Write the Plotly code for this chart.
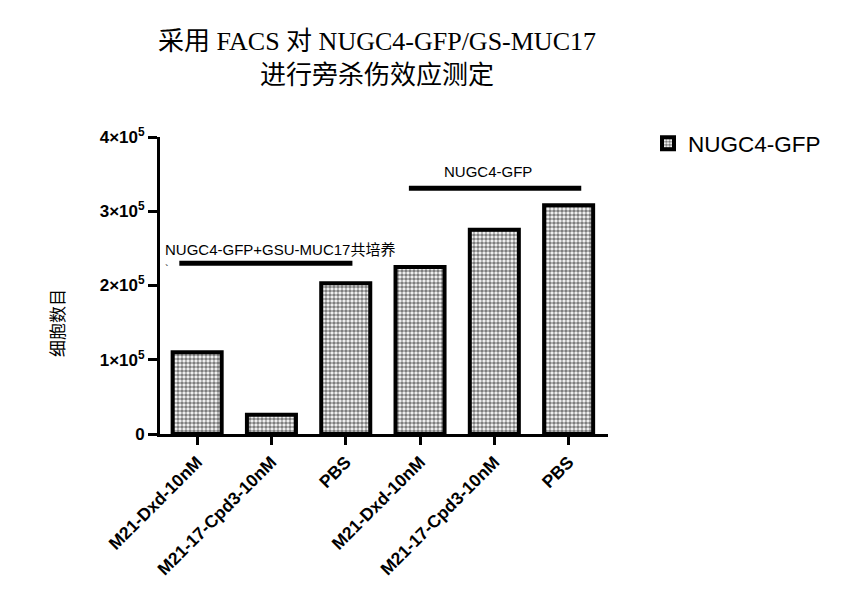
import plotly.graph_objects as go

categories = ["M21-Dxd-10nM", "M21-17-Cpd3-10nM", "PBS", "M21-Dxd-10nM", "M21-17-Cpd3-10nM", "PBS"]
values = [1.10e5, 0.26e5, 2.03e5, 2.25e5, 2.75e5, 3.08e5]
series_name = "NUGC4-GFP"
ytick_vals = [0, 1e5, 2e5, 3e5, 4e5]
ytick_text = ["0", "1×10<sup>5</sup>", "2×10<sup>5</sup>", "3×10<sup>5</sup>", "4×10<sup>5</sup>"]
group_labels = ["NUGC4-GFP+GSU-MUC17共培养", "NUGC4-GFP"]
y_title = "细胞数目"

x_pos = list(range(len(categories)))

fig = go.Figure()
fig.add_trace(go.Bar(
    x=x_pos, y=values, name=series_name, width=0.66,
    marker=dict(color="white", line=dict(color="black", width=4),
                pattern=dict(shape=".", fgcolor="black", bgcolor="white", size=4, solidity=0.65)),
    showlegend=True,
))

sans = "Liberation Sans, Arial, Noto Sans CJK SC"
fig.update_layout(
    width=855, height=598,
    margin=dict(l=160, r=247, t=137, b=164),
    paper_bgcolor="white", plot_bgcolor="white",
    font=dict(family=sans, color="black"),
    title=dict(text="采用 FACS 对 NUGC4-GFP/GS-MUC17<br>进行旁杀伤效应测定",
               x=377 / 855, xanchor="center", y=1 - 50 / 598, yanchor="middle",
               font=dict(family="Liberation Serif, Times New Roman, Noto Sans CJK SC", size=26, color="black")),
    bargap=0.3,
    legend=dict(x=(648 - 160) / 448, xanchor="left", y=1.05, yanchor="top",
                font=dict(family=sans, size=22.5, color="black"), bgcolor="rgba(0,0,0,0)"),
)
fig.update_xaxes(
    range=[-0.5, 5.53], tickvals=x_pos, ticktext=categories, tickangle=-45, automargin=False,
    showline=True, linecolor="black", linewidth=3, ticks="outside", ticklen=8, tickwidth=3,
    tickcolor="black", showgrid=False, zeroline=False,
    tickfont=dict(family=sans, size=17.5, weight="bold", color="black"),
)
fig.update_yaxes(
    range=[0, 4e5], tickvals=ytick_vals, ticktext=ytick_text, automargin=False,
    showline=True, linecolor="black", linewidth=3, ticks="outside", ticklen=9, tickwidth=3,
    tickcolor="black", showgrid=False, zeroline=False,
    tickfont=dict(family=sans, size=17, weight="bold", color="black"),
)

# y-axis title placed where the reference shows it (paper coords relative to plot area)
fig.add_annotation(x=(56 - 160) / 448, y=(434 - 323) / 297, xref="paper", yref="paper", text=y_title,
                   textangle=-90, showarrow=False, xanchor="center", yanchor="middle",
                   font=dict(family="Noto Sans CJK SC", size=17, color="black"))

# group bracket lines
fig.add_shape(type="line", x0=-0.24, x1=2.09, y0=2.30e5, y1=2.30e5, xref="x", yref="y",
              line=dict(color="black", width=5))
fig.add_shape(type="line", x0=2.85, x1=5.17, y0=3.31e5, y1=3.31e5, xref="x", yref="y",
              line=dict(color="black", width=5))
fig.add_annotation(x=-0.46, y=2.48e5, xref="x", yref="y", text=group_labels[0], showarrow=False,
                   xanchor="left", yanchor="middle", font=dict(family=sans, size=15, color="black"))
fig.add_annotation(x=3.92, y=3.53e5, xref="x", yref="y", text=group_labels[1], showarrow=False,
                   xanchor="center", yanchor="middle", font=dict(family=sans, size=15, color="black"))
fig.add_annotation(x=-0.41, y=2.22e5, xref="x", yref="y", text="`", showarrow=False,
                   xanchor="center", yanchor="middle", font=dict(family=sans, size=11, color="black"))

fig.write_html("out.html")
